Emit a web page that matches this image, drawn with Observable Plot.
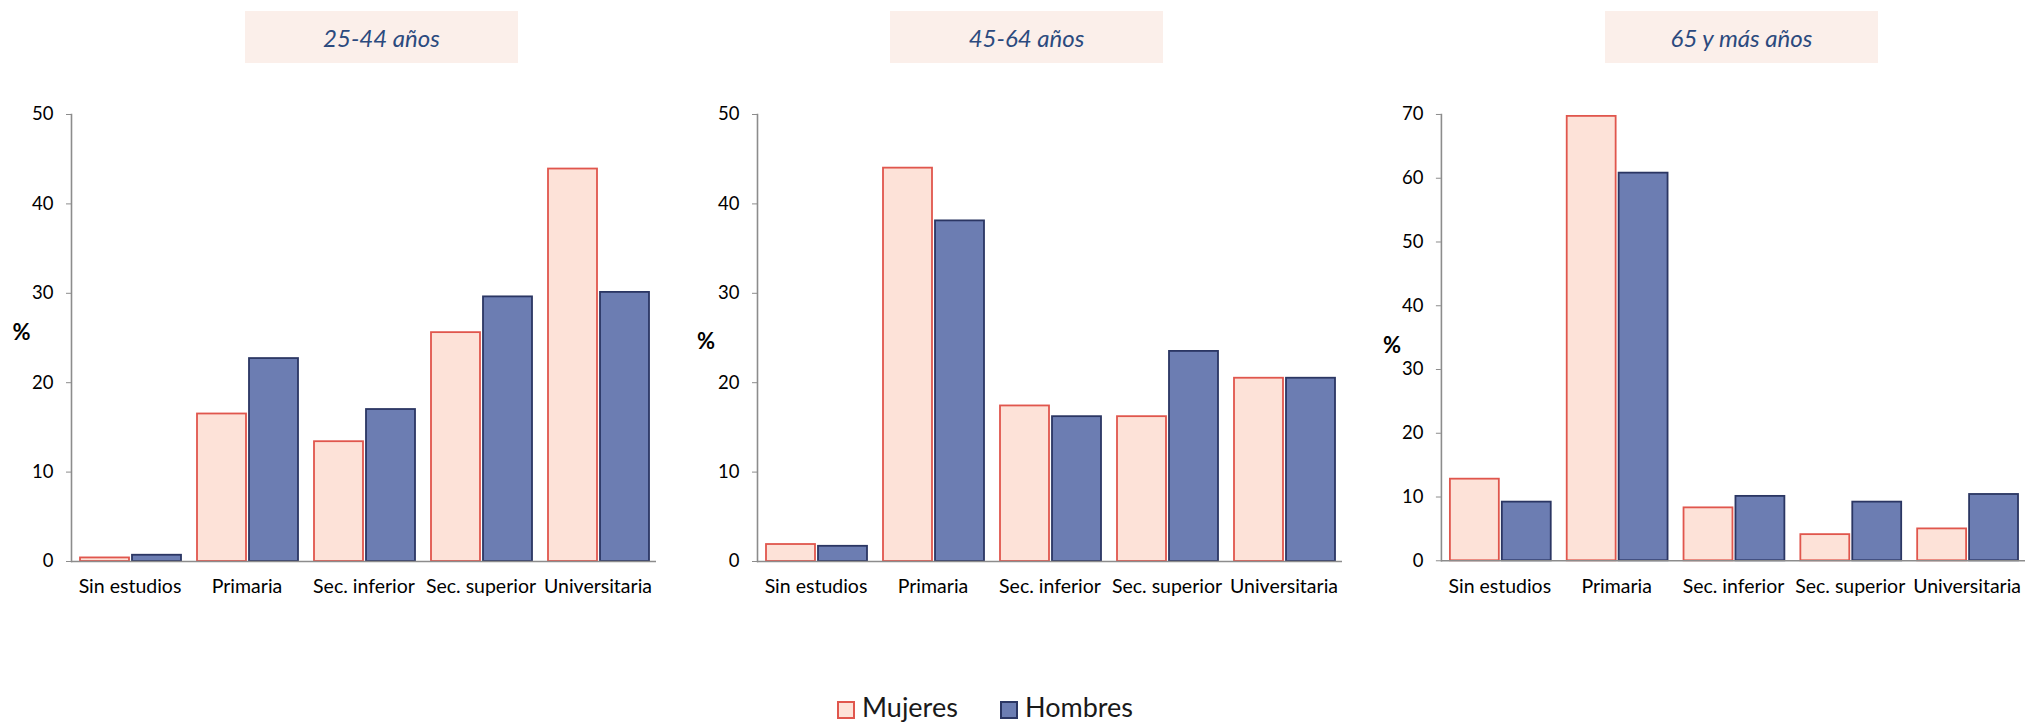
<!DOCTYPE html>
<html>
<head>
<meta charset="utf-8">
<script src="https://cdn.jsdelivr.net/npm/d3@7"></script>
<script src="https://cdn.jsdelivr.net/npm/@observablehq/plot@0.6"></script>
<style>
  body { margin: 0; background: #fff; }
  #root { position: relative; width: 2029px; height: 726px; overflow: hidden; font-family: Lato, "Open Sans", sans-serif; }
  .title { position: absolute; top: 11px; height: 52px; width: 273px; background: #FBEFEA; color: #2B4A7E;
           font-style: italic; font-size: 24px; display: flex; align-items: center; justify-content: center; }
  .pct { position: absolute; font-weight: bold; font-size: 22px; color: #000; transform: translate(-50%, -50%); }
  .panel { position: absolute; top: 100px; }
  .legend { position: absolute; top: 0; left: 0; font-size: 27px; color: #1a1a1a; }
  .sw { position: absolute; width: 14px; height: 14px; border: 2px solid; top: 701px; }
  .lt { position: absolute; top: 694px; height: 26px; line-height: 26px; white-space: nowrap; }
</style>
</head>
<body>
<div id="root"></div>
<script>
// ---- data ----
const categories = ["Sin estudios", "Primaria", "Sec. inferior", "Sec. superior", "Universitaria"];
const ageGroups = ["25-44 años", "45-64 años", "65 y más años"];
const sexes = ["Mujeres", "Hombres"];
const mujeres_25_44 = [0.4, 16.5, 13.4, 25.6, 43.9];
const hombres_25_44 = [0.7, 22.7, 17.0, 29.6, 30.1];
const mujeres_45_64 = [1.9, 44.0, 17.4, 16.2, 20.5];
const hombres_45_64 = [1.7, 38.1, 16.2, 23.5, 20.5];
const mujeres_65 = [12.8, 69.7, 8.3, 4.1, 5.0];
const hombres_65 = [9.2, 60.8, 10.1, 9.2, 10.4];
const yMaxima = [50, 50, 70];
const yLabel = "%";

// ---- layout / style ----
const root = document.getElementById("root");
const panels = [
  {m: mujeres_25_44, h: hombres_25_44, axisX: 70.7, titleX: 245, pct: [21.5, 331]},
  {m: mujeres_45_64, h: hombres_45_64, axisX: 757.2, titleX: 890, pct: [706, 340]},
  {m: mujeres_65, h: hombres_65, axisX: 1441, titleX: 1605, pct: [1392, 344]}
];
const colors = {
  Mujeres: {fill: "#FDE2D8", stroke: "#E0564D"},
  Hombres: {fill: "#6C7DB2", stroke: "#2B3663"}
};
const mL = 60, mR = 4, mT = 14, mB = 50, plotW = 585, plotH = 447;

panels.forEach((p, i) => {
  const t = document.createElement("div");
  t.className = "title";
  t.style.left = p.titleX + "px";
  t.textContent = ageGroups[i];
  root.appendChild(t);

  const pc = document.createElement("div");
  pc.className = "pct";
  pc.style.left = p.pct[0] + "px";
  pc.style.top = p.pct[1] + "px";
  pc.textContent = yLabel;
  root.appendChild(pc);

  const rowsM = categories.map((c, j) => ({cat: c, sex: sexes[0], value: p.m[j]}));
  const rowsH = categories.map((c, j) => ({cat: c, sex: sexes[1], value: p.h[j]}));
  const ymax = yMaxima[i];

  const chart = Plot.plot({
    width: mL + plotW + mR,
    height: mT + plotH + mB,
    marginLeft: mL, marginRight: mR, marginTop: mT, marginBottom: mB,
    style: {fontFamily: "Lato, 'Open Sans', sans-serif", fontSize: "18.5px", color: "#000", background: "transparent"},
    x: {domain: categories, padding: 0},
    y: {domain: [0, ymax]},
    marks: [
      Plot.barY(rowsM, {x: "cat", y: "value", fill: colors.Mujeres.fill, stroke: colors.Mujeres.stroke,
        strokeWidth: 1.8, insetLeft: 9, insetRight: 59}),
      Plot.barY(rowsH, {x: "cat", y: "value", fill: colors.Hombres.fill, stroke: colors.Hombres.stroke,
        strokeWidth: 1.8, insetLeft: 61, insetRight: 7}),
      Plot.ruleY([0], {stroke: "#8c8c8c", strokeWidth: 1.6}),
      Plot.frame({anchor: "left", stroke: "#8c8c8c", strokeWidth: 1.6}),
      Plot.axisY({ticks: d3.range(0, ymax + 1, 10), tickSize: 5, tickPadding: 13, stroke: "#8c8c8c",
        fill: "#000", label: null, tickFormat: d => String(d)}),
      Plot.axisX({tickSize: 0, tickPadding: 18, label: null, fill: "#000", fontSize: 19.5})
    ]
  });
  const wrap = document.createElement("div");
  wrap.className = "panel";
  wrap.style.left = (p.axisX - mL) + "px";
  wrap.appendChild(chart);
  root.appendChild(wrap);
});

// legend
const leg = document.createElement("div");
leg.className = "legend";
const legPos = [{sw: 837, tx: 862}, {sw: 1000, tx: 1025}];
sexes.forEach((s, k) => {
  const sw = document.createElement("div");
  sw.className = "sw";
  sw.style.left = legPos[k].sw + "px";
  sw.style.background = colors[s].fill;
  sw.style.borderColor = colors[s].stroke;
  leg.appendChild(sw);
  const tx = document.createElement("div");
  tx.className = "lt";
  tx.style.left = legPos[k].tx + "px";
  tx.textContent = s;
  leg.appendChild(tx);
});
root.appendChild(leg);
</script>
</body>
</html>
